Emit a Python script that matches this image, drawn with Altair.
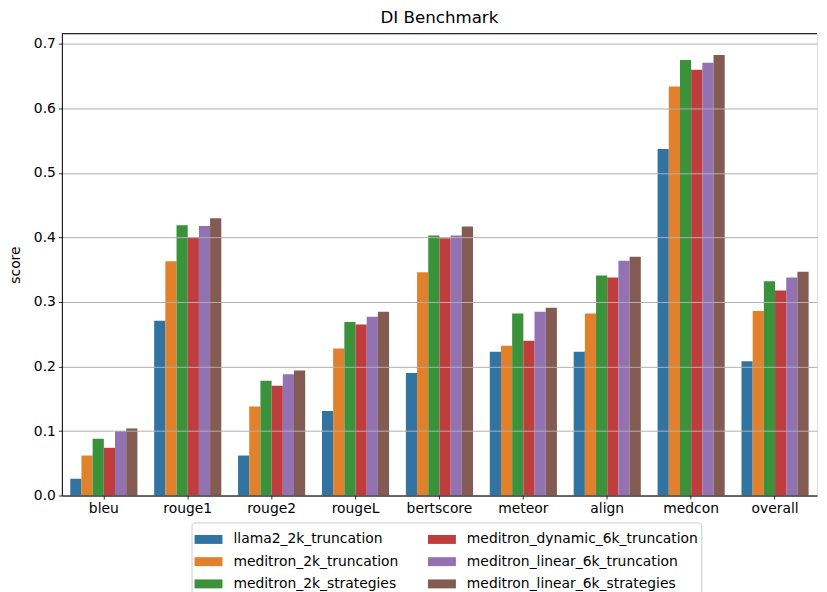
import altair as alt
import pandas as pd

metrics = ["bleu", "rouge1", "rouge2", "rougeL", "bertscore", "meteor", "align", "medcon", "overall"]
models = [
    "llama2_2k_truncation",
    "meditron_2k_truncation",
    "meditron_2k_strategies",
    "meditron_dynamic_6k_truncation",
    "meditron_linear_6k_truncation",
    "meditron_linear_6k_strategies",
]
colors = ["#3274a1", "#e1812c", "#3a923a", "#c03d3e", "#9372b2", "#845b53"]

llama2_2k_truncation = [0.026, 0.271, 0.062, 0.131, 0.190, 0.223, 0.223, 0.537, 0.208]
meditron_2k_truncation = [0.062, 0.363, 0.138, 0.228, 0.346, 0.232, 0.282, 0.634, 0.286]
meditron_2k_strategies = [0.088, 0.419, 0.178, 0.269, 0.403, 0.282, 0.341, 0.675, 0.332]
meditron_dynamic_6k_truncation = [0.074, 0.400, 0.170, 0.265, 0.399, 0.240, 0.338, 0.660, 0.318]
meditron_linear_6k_truncation = [0.100, 0.418, 0.188, 0.277, 0.403, 0.285, 0.364, 0.671, 0.338]
meditron_linear_6k_strategies = [0.104, 0.430, 0.194, 0.285, 0.417, 0.291, 0.370, 0.683, 0.347]

series = [
    llama2_2k_truncation,
    meditron_2k_truncation,
    meditron_2k_strategies,
    meditron_dynamic_6k_truncation,
    meditron_linear_6k_truncation,
    meditron_linear_6k_strategies,
]

rows = []
for model, vals in zip(models, series):
    for metric, v in zip(metrics, vals):
        rows.append({"metric": metric, "model": model, "score": v})
df = pd.DataFrame(rows)

W, H = 757, 463
FONT = "DejaVu Sans"

bars = alt.Chart(df).mark_bar().encode(
    x=alt.X("metric:N", sort=metrics,
            scale=alt.Scale(paddingInner=0.2, paddingOuter=0.1),
            axis=alt.Axis(title=None, labelAngle=0, tickSize=3.5, tickWidth=0.8,
                          tickColor="black", domainColor="black", domainWidth=1,
                          labelPadding=3, labelFontSize=13.9, labelColor="black",
                          labelFont=FONT, zindex=1)),
    xOffset=alt.XOffset("model:N", sort=models,
                        scale=alt.Scale(paddingInner=0, paddingOuter=0)),
    y=alt.Y("score:Q",
            scale=alt.Scale(domain=[0, 0.716], nice=False, zero=True),
            axis=alt.Axis(title="score", values=[0, 0.1, 0.2, 0.3, 0.4, 0.5, 0.6, 0.7],
                          format=".1f", grid=True, gridColor="#b0b0b0", gridWidth=1,
                          tickSize=3.5, tickWidth=0.8, tickColor="black",
                          domainColor="black", domainWidth=1, labelPadding=3,
                          labelFontSize=13.9, labelColor="black", labelFont=FONT,
                          titleFont=FONT, titleFontSize=13.9, titleFontWeight="normal",
                          titleColor="black", titlePadding=11, zindex=1)),
    color=alt.Color("model:N",
                    scale=alt.Scale(domain=models, range=colors),
                    legend=alt.Legend(
                        title=None, orient="none", legendX=130, legendY=490,
                        columns=2, values=models,
                        symbolType="M-1,-0.32L1,-0.32L1,0.32L-1,0.32Z",
                        symbolSize=784, symbolStrokeWidth=0,
                        labelFont=FONT, labelFontSize=13.9, labelColor="black",
                        labelOffset=11, columnPadding=29, rowPadding=1.3,
                        padding=3, strokeColor="#cccccc", fillColor="white",
                        cornerRadius=3, labelLimit=400)),
)

top_rule = alt.Chart(alt.Data(values=[{}])).mark_rule(color="black", strokeWidth=1).encode(
    x=alt.value(0), x2=alt.value(W), y=alt.value(0)
)

chart = alt.layer(bars, top_rule).properties(
    width=W, height=H,
    title=alt.Title("DI Benchmark", font=FONT, fontSize=16.7, fontWeight="normal",
                    color="black", offset=6),
    autosize=alt.AutoSizeParams(type="none"),
    padding={"left": 54, "top": 25, "right": 2, "bottom": 96},
).configure_view(stroke=None).configure(background="white")

chart.save("out.html", embed_options={"renderer": "svg", "actions": False})
